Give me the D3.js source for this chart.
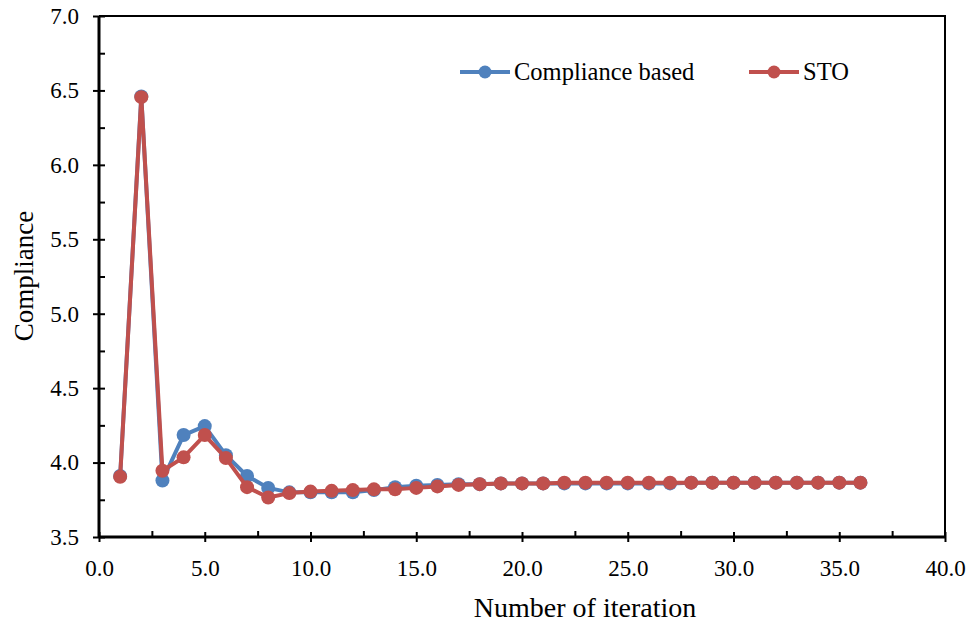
<!DOCTYPE html>
<html>
<head>
<meta charset="utf-8">
<script src="https://cdn.jsdelivr.net/npm/d3@7"></script>
<style>
  html, body { margin: 0; padding: 0; background: #fff; }
  svg text { font-family: "Liberation Serif", "Times New Roman", serif; fill: #000; }
</style>
</head>
<body>
<div class="container"></div>
<script>
const iterations = d3.range(1, 37);

const complianceBased = [
    3.91, 6.46, 3.88, 4.185, 4.245, 4.05, 3.91, 3.83, 3.80, 3.80,
    3.80, 3.80, 3.815, 3.835, 3.845, 3.85, 3.855, 3.855, 3.86, 3.86,
    3.86, 3.86, 3.86, 3.86, 3.86, 3.86, 3.86, 3.865, 3.865, 3.865,
    3.865, 3.865, 3.865, 3.865, 3.865, 3.865
];

const sto = [
    3.905, 6.455, 3.945, 4.035, 4.185, 4.03, 3.835, 3.765, 3.795, 3.805,
    3.81, 3.815, 3.82, 3.82, 3.83, 3.84, 3.85, 3.855, 3.86, 3.86,
    3.86, 3.865, 3.865, 3.865, 3.865, 3.865, 3.865, 3.865, 3.865, 3.865,
    3.865, 3.865, 3.865, 3.865, 3.865, 3.865
];

const xMajorTicks = d3.range(0, 40.1, 5);
const xMinorTicks = d3.range(2.5, 40, 5);
const yMajorTicks = d3.range(3.5, 7.01, 0.5);
const yMinorTicks = d3.range(3.75, 7, 0.5);

const seriesNames = ["Compliance based", "STO"];
const seriesColors = ["#4f81bd", "#c0504d"];

const width = 971, height = 624;
const margin = { top: 16, right: 26, bottom: 87, left: 99 };
const plotW = width - margin.left - margin.right;
const plotH = height - margin.top - margin.bottom;

const svg = d3.select(".container")
    .append("svg")
        .attr("width", width)
        .attr("height", height);

const x = d3.scaleLinear().domain([0, 40]).range([0, plotW]);
const y = d3.scaleLinear().domain([3.5, 7.0]).range([plotH, 0]);

const plot = svg.append("g")
    .attr("transform", `translate(${margin.left},${margin.top})`);

// frame: top and right
plot.append("path")
    .attr("d", `M0,0H${plotW}V${plotH}`)
    .attr("fill", "none")
    .attr("stroke", "#000")
    .attr("stroke-width", 2);

// minor ticks, inward only
plot.append("g")
    .call(d3.axisLeft(y).tickValues(yMinorTicks).tickSize(-6).tickFormat(""))
    .call(g => g.select(".domain").remove())
    .selectAll("line").attr("stroke-width", 2);

plot.append("g")
    .attr("transform", `translate(0,${plotH})`)
    .call(d3.axisBottom(x).tickValues(xMinorTicks).tickSize(-6).tickFormat(""))
    .call(g => g.select(".domain").remove())
    .selectAll("line").attr("stroke-width", 2);

// major ticks crossing the axis
const yAxis = plot.append("g")
    .call(d3.axisLeft(y).tickValues(yMajorTicks).tickSize(6).tickPadding(14)
        .tickFormat(d3.format(".1f")));
yAxis.selectAll(".tick line").attr("x1", 6).attr("stroke-width", 2);
yAxis.select(".domain").attr("stroke-width", 3).attr("d", `M0,${plotH}V0`);
yAxis.selectAll("text")
    .attr("font-size", 23)
    .attr("fill", "#1a1a1a");

const xAxis = plot.append("g")
    .attr("transform", `translate(0,${plotH})`)
    .call(d3.axisBottom(x).tickValues(xMajorTicks).tickSize(5).tickPadding(18)
        .tickFormat(d3.format(".1f")));
xAxis.selectAll(".tick line").attr("y1", -5).attr("stroke-width", 2);
xAxis.select(".domain").attr("stroke-width", 3).attr("d", `M0,0H${plotW}`);
xAxis.selectAll("text")
    .attr("font-size", 23)
    .attr("fill", "#1a1a1a");

// series
const line = d3.line()
    .x((d, i) => x(iterations[i]))
    .y(d => y(d));

[complianceBased, sto].forEach((values, s) => {
    const g = plot.append("g");
    g.append("path")
        .attr("d", line(values))
        .attr("fill", "none")
        .attr("stroke", seriesColors[s])
        .attr("stroke-width", 4)
        .attr("stroke-linejoin", "round");
    g.selectAll("circle")
        .data(values)
        .join("circle")
            .attr("cx", (d, i) => x(iterations[i]))
            .attr("cy", d => y(d))
            .attr("r", 7)
            .attr("fill", seriesColors[s]);
});

// legend
const legendX = [460, 749];
const legendY = 72;
seriesNames.forEach((name, s) => {
    const g = svg.append("g")
        .attr("transform", `translate(${legendX[s]},${legendY})`);
    g.append("line")
        .attr("x1", 0).attr("x2", 50)
        .attr("stroke", seriesColors[s])
        .attr("stroke-width", 4);
    g.append("circle")
        .attr("cx", 25).attr("r", 6.5)
        .attr("fill", seriesColors[s]);
    g.append("text")
        .attr("x", 54)
        .attr("dy", "0.33em")
        .attr("font-size", 24.5)
        .text(name);
});

// axis titles
svg.append("text")
    .attr("x", margin.left + plotW / 2 + 63)
    .attr("y", 617)
    .attr("text-anchor", "middle")
    .attr("font-size", 28)
    .text("Number of iteration");

svg.append("text")
    .attr("transform", `translate(33,276) rotate(-90)`)
    .attr("text-anchor", "middle")
    .attr("font-size", 27)
    .text("Compliance");
</script>
</body>
</html>
